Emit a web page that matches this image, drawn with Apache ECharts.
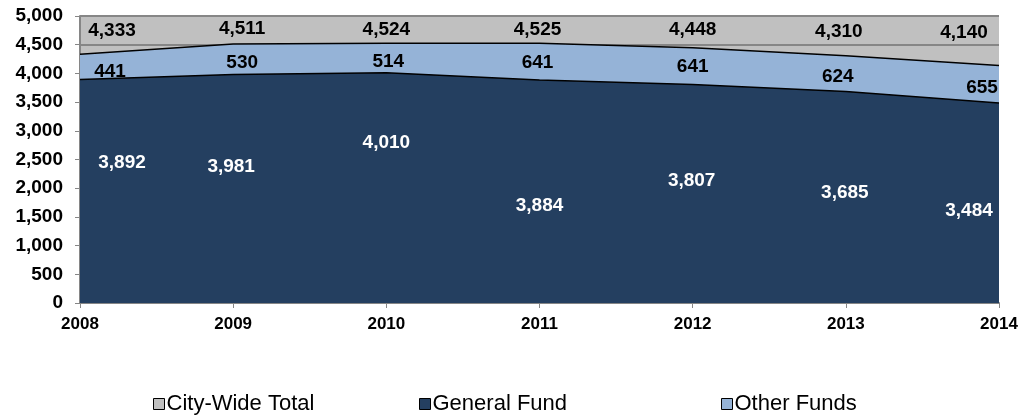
<!DOCTYPE html>
<html>
<head>
<meta charset="utf-8">
<script src="https://cdn.jsdelivr.net/npm/echarts@6/dist/echarts.min.js"></script>
<style>
html, body { margin: 0; padding: 0; background: #fff; }
#chart { width: 1024px; height: 418px; }
</style>
</head>
<body>
<div id="chart"></div>
<script>
// values
var years = ['2008', '2009', '2010', '2011', '2012', '2013', '2014'];
var generalFund = [3892, 3981, 4010, 3884, 3807, 3685, 3484];
var otherFunds = [441, 530, 514, 641, 641, 624, 655];
var cityWideTotal = [4333, 4511, 4524, 4525, 4448, 4310, 4140];

// label nudges (px) so the numbers sit where the original puts them
var generalOffsets = [[42, 83], [-2, 92], [0, 70], [0, 126], [-1, 96], [-1, 101], [-30, 108]];
var otherOffsets = [[30, 17], [9, 19], [2, 18], [-2, 20], [0, 19], [-8, 21], [-17, 22]];
var totalOffsets = [[32, -24], [9, -15], [0, -14], [-2, -13], [0, -18], [-7, -24], [-35, -33]];

var GRAY = '#c0c0c0', NAVY = '#243f60', LIGHT = '#95b3d7', AXIS = '#868686';
var boldFont = 'Liberation Sans, Arial, sans-serif';

function fmt(v) {
    return Number(v).toLocaleString('en-US');
}

function withOffsets(values, offsets) {
    var out = [];
    for (var i = 0; i < values.length; i++) {
        out.push({ value: values[i], label: { offset: offsets[i] } });
    }
    return out;
}

function legendAt(left, name) {
    return {
        left: left,
        top: 393,
        data: [name],
        icon: 'rect',
        itemWidth: 11,
        itemHeight: 11,
        itemGap: 0,
        padding: 0,
        itemStyle: { borderColor: '#000', borderWidth: 1 },
        textStyle: { fontFamily: boldFont, fontSize: 22, color: '#000', padding: [0, 0, 0, -3] },
        selectedMode: false
    };
}

var chart = echarts.init(document.getElementById('chart'));

var option = {
    animation: false,
    legend: [
        legendAt(153, 'City-Wide Total'),
        legendAt(419, 'General Fund'),
        legendAt(721, 'Other Funds')
    ],
    grid: {
        left: 80,
        right: 25,
        top: 16,
        bottom: 115,
        show: true,
        backgroundColor: GRAY,
        borderWidth: 0
    },
    xAxis: {
        type: 'category',
        data: years,
        boundaryGap: false,
        axisLine: { lineStyle: { color: AXIS, width: 2 } },
        axisTick: { show: true, length: 5, lineStyle: { color: AXIS } },
        axisLabel: { fontFamily: boldFont, fontWeight: 'bold', fontSize: 17, color: '#000', margin: 13 }
    },
    yAxis: {
        type: 'value',
        min: 0,
        max: 5000,
        interval: 500,
        axisLine: { show: true, lineStyle: { color: AXIS, width: 2 } },
        axisTick: { show: true, length: 5, lineStyle: { color: AXIS } },
        splitLine: { show: true, lineStyle: { color: AXIS, width: 2 } },
        axisLabel: {
            fontFamily: boldFont, fontWeight: 'bold', fontSize: 19, color: '#000', margin: 17,
            formatter: fmt
        }
    },
    series: [
        {
            name: 'General Fund',
            type: 'line',
            stack: 'funds',
            data: withOffsets(generalFund, generalOffsets),
            symbol: 'circle',
            symbolSize: 0,
            showSymbol: true,
            itemStyle: { color: NAVY },
            lineStyle: { color: '#000', width: 1.5 },
            areaStyle: { color: NAVY, opacity: 1 },
            label: {
                show: true, position: 'inside', formatter: function (p) { return fmt(p.value); },
                fontFamily: boldFont, fontWeight: 'bold', fontSize: 19, color: '#fff'
            },
            z: 2
        },
        {
            name: 'Other Funds',
            type: 'line',
            stack: 'funds',
            data: withOffsets(otherFunds, otherOffsets),
            symbol: 'circle',
            symbolSize: 0,
            showSymbol: true,
            itemStyle: { color: LIGHT },
            lineStyle: { color: '#000', width: 1.5 },
            areaStyle: { color: LIGHT, opacity: 1 },
            label: {
                show: true, position: 'inside', formatter: function (p) { return fmt(p.value); },
                fontFamily: boldFont, fontWeight: 'bold', fontSize: 19, color: '#000'
            },
            z: 1
        },
        {
            name: 'City-Wide Total',
            type: 'line',
            data: withOffsets(cityWideTotal, totalOffsets),
            symbol: 'circle',
            symbolSize: 0,
            showSymbol: true,
            itemStyle: { color: GRAY },
            lineStyle: { opacity: 0 },
            label: {
                show: true, position: 'inside', formatter: function (p) { return fmt(p.value); },
                fontFamily: boldFont, fontWeight: 'bold', fontSize: 19, color: '#000'
            },
            z: 3
        }
    ]
};

chart.setOption(option);
</script>
</body>
</html>
